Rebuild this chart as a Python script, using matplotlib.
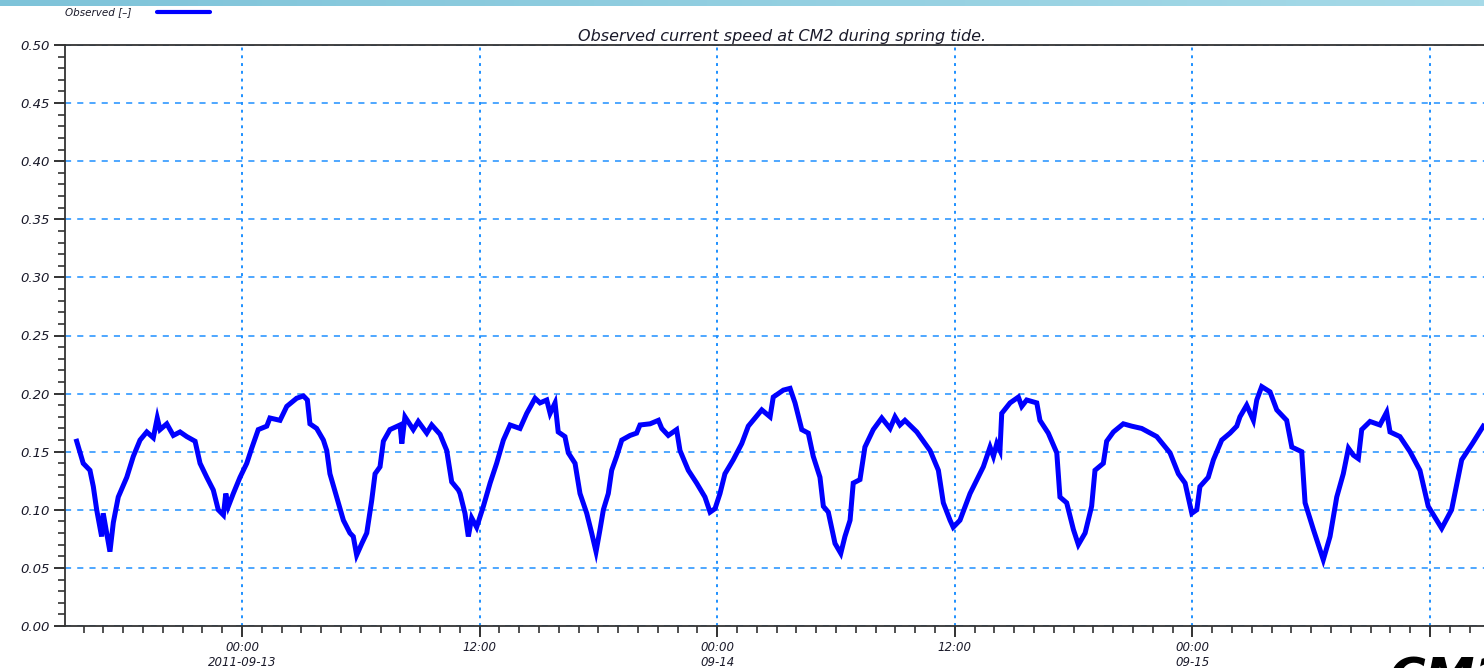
import numpy as np
import matplotlib
matplotlib.use("Agg")
import matplotlib.pyplot as plt
import matplotlib.dates as mdates
from matplotlib.ticker import MultipleLocator
from datetime import datetime, timedelta

# ---- data: hours relative to 2011-09-13 00:00, observed current speed ----
hours = [
    -8.35, -8.02, -7.68, -7.51, -7.34, -7.09, -7.01, -6.67, -6.50, -6.25,
    -5.82, -5.49, -5.15, -4.81, -4.48, -4.28, -4.14, -3.80, -3.47, -3.13,
    -2.79, -2.37, -2.12, -1.78, -1.45, -1.20, -0.94, -0.82, -0.69, -0.44,
    -0.10, 0.24, 0.49, 0.82, 1.25, 1.41, 1.92, 2.26, 2.76, 3.10,
    3.30, 3.43, 3.77, 4.11, 4.28, 4.44, 4.78, 5.12, 5.45, 5.62,
    5.79, 6.05, 6.30, 6.55, 6.72, 6.97, 7.14, 7.47, 7.98, 8.07,
    8.23, 8.65, 8.90, 9.33, 9.58, 10.00, 10.34, 10.59, 10.93,
    11.01, 11.26, 11.43, 11.60, 11.85, 12.19, 12.53, 12.86, 13.20, 13.54,
    14.04, 14.38, 14.80, 15.05, 15.39, 15.56, 15.81, 15.97, 16.31, 16.48,
    16.82, 17.07, 17.41, 17.66, 17.88, 18.08, 18.25, 18.50, 18.67, 18.92,
    19.18, 19.60, 19.93, 20.10, 20.61, 21.03, 21.20, 21.53, 21.95, 22.12,
    22.54, 22.96, 23.38, 23.64, 23.89, 24.14, 24.39, 24.81, 25.24, 25.57,
    26.25, 26.67, 26.83, 27.34, 27.68, 27.93, 28.27, 28.60, 28.85, 29.19,
    29.36, 29.61, 29.95, 30.24, 30.45, 30.71, 30.87, 31.21, 31.46, 31.88,
    32.31, 32.73, 32.98, 33.23, 33.48, 34.08, 34.75, 35.17, 35.42, 35.76,
    35.92, 36.26, 36.77, 37.44, 37.78, 37.95, 38.12, 38.28, 38.37, 38.79,
    39.21, 39.38, 39.63, 40.14, 40.30, 40.72, 41.15, 41.31, 41.65, 41.99,
    42.24, 42.58, 42.91, 43.08, 43.50, 43.67, 44.01, 44.51, 44.93, 45.44,
    46.20, 46.87, 47.29, 47.63, 47.97, 48.22, 48.38, 48.80, 49.06, 49.48,
    49.90, 50.24, 50.40, 50.74, 51.08, 51.25, 51.50, 51.92, 52.26, 52.76,
    53.02, 53.52, 53.69, 54.11, 54.61, 54.95, 55.29, 55.62, 55.88, 56.13,
    56.38, 56.55, 56.97, 57.47, 57.81, 57.98, 58.48, 58.99, 59.49, 59.91,
    60.59, 61.09, 61.60, 62.14, 62.69,
]
speed = [
    0.159, 0.140, 0.134, 0.120, 0.100, 0.077, 0.097, 0.064, 0.089, 0.111,
    0.128, 0.146, 0.160, 0.167, 0.162, 0.179, 0.169, 0.174, 0.164, 0.167,
    0.163, 0.159, 0.140, 0.128, 0.117, 0.100, 0.0955, 0.114, 0.103, 0.114,
    0.128, 0.140, 0.153, 0.169, 0.172, 0.179, 0.177, 0.189, 0.196, 0.198,
    0.1945, 0.174, 0.170, 0.160, 0.151, 0.131, 0.111, 0.091, 0.080, 0.077,
    0.061, 0.071, 0.080, 0.108, 0.131, 0.137, 0.159, 0.169, 0.173, 0.157,
    0.180, 0.169, 0.176, 0.166, 0.173, 0.165, 0.151, 0.124, 0.117,
    0.114, 0.097, 0.077, 0.093, 0.085, 0.103, 0.123, 0.140, 0.160, 0.173,
    0.170, 0.183, 0.196, 0.192, 0.1945, 0.183, 0.192, 0.167, 0.163, 0.149,
    0.140, 0.114, 0.097, 0.080, 0.064, 0.083, 0.100, 0.114, 0.134, 0.146,
    0.160, 0.164, 0.166, 0.173, 0.174, 0.177, 0.170, 0.164, 0.169, 0.151,
    0.134, 0.123, 0.111, 0.098, 0.101, 0.114, 0.131, 0.143, 0.157, 0.172,
    0.186, 0.180, 0.197, 0.203, 0.2045, 0.192, 0.169, 0.166, 0.146, 0.128,
    0.103, 0.098, 0.071, 0.0625, 0.077, 0.091, 0.123, 0.126, 0.154, 0.169,
    0.179, 0.170, 0.180, 0.173, 0.177, 0.167, 0.151, 0.134, 0.106, 0.091,
    0.085, 0.091, 0.114, 0.137, 0.154, 0.146, 0.157, 0.151, 0.183, 0.192,
    0.197, 0.189, 0.1945, 0.192, 0.177, 0.166, 0.149, 0.111, 0.106, 0.083,
    0.070, 0.080, 0.103, 0.134, 0.140, 0.159, 0.167, 0.174, 0.172, 0.170,
    0.163, 0.149, 0.131, 0.123, 0.097, 0.100, 0.120, 0.128, 0.143, 0.160,
    0.166, 0.172, 0.180, 0.190, 0.177, 0.1945, 0.206, 0.2015, 0.186, 0.177,
    0.154, 0.150, 0.106, 0.083, 0.057, 0.077, 0.111, 0.131, 0.153, 0.147,
    0.144, 0.169, 0.176, 0.173, 0.184, 0.167, 0.163, 0.150, 0.134, 0.103,
    0.084, 0.100, 0.143, 0.157, 0.172,
]
y_ticks = [0.00, 0.05, 0.10, 0.15, 0.20, 0.25, 0.30, 0.35, 0.40, 0.45, 0.50]
# the last 12:00 label is hidden in the source picture
x_tick_labels = ["00:00\n2011-09-13", "12:00", "00:00\n09-14", "12:00",
                 "00:00\n09-15", ""]
title = "Observed current speed at CM2 during spring tide."
legend_label = "Observed [\u2013]"

base = datetime(2011, 9, 13)
times = [base + timedelta(hours=h) for h in hours]
tick_times = [base + timedelta(hours=12 * i) for i in range(len(x_tick_labels))]

W, H = 1484, 668
fig = plt.figure(figsize=(W / 100, H / 100), dpi=100)
fig.patch.set_facecolor("white")

# top decorative band
band = fig.add_axes([0, 1 - 6 / H, 1, 6 / H])
grad = np.linspace(0, 1, 300)
band_col = np.zeros((1, 300, 3))
c1 = np.array([0x7E, 0xC3, 0xD9]) / 255
c2 = np.array([0xA6, 0xDA, 0xE8]) / 255
for i, g in enumerate(grad):
    band_col[0, i] = c1 * (1 - g) + c2 * g
band.imshow(band_col, aspect="auto", extent=[0, 1, 0, 1])
band.axis("off")

# main axes
xl0, xl1 = -8.94, 63.5
px_per_h = 19.8
left = 65 / W
width = (xl1 - xl0) * px_per_h / W
bottom = (H - 626) / H
height = 581 / H
ax = fig.add_axes([left, bottom, width, height])

ax.plot(times, speed, color="#0000FF", lw=3.6, solid_joinstyle="miter",
        label=legend_label)

ax.set_xlim(base + timedelta(hours=xl0), base + timedelta(hours=xl1))
ax.set_ylim(0, 0.5)
ax.set_yticks(y_ticks)
ax.set_yticklabels([f"{v:.2f}" for v in y_ticks])
ax.yaxis.set_minor_locator(MultipleLocator(0.01))
ax.set_xticks(tick_times)
ax.set_xticklabels(x_tick_labels)
ax.xaxis.set_minor_locator(mdates.HourLocator(interval=1))

for lab in ax.get_yticklabels():
    lab.set_fontsize(9.5)
    lab.set_fontstyle("italic")
    lab.set_color("#1a1a2a")
for lab in ax.get_xticklabels():
    lab.set_fontsize(8.5)
    lab.set_fontstyle("italic")
    lab.set_color("#1a1a2a")
    lab.set_linespacing(1.15)

ax.tick_params(axis="both", which="major", direction="out", length=8,
               width=1.3, color="#222222", pad=3)
ax.tick_params(axis="both", which="minor", direction="out", length=5,
               width=1.1, color="#222222")
ax.tick_params(axis="x", which="major", pad=3)

ax.grid(axis="y", which="major", color="#1E90FF", linestyle=(0, (4, 4)), lw=1.1)
ax.grid(axis="x", which="major", color="#1E90FF", linestyle=(0, (1.5, 2.5)), lw=1.4)
ax.set_axisbelow(True)

for side in ["left", "bottom", "top"]:
    ax.spines[side].set_color("#333333")
    ax.spines[side].set_linewidth(1.3)
ax.spines["right"].set_visible(False)

ax.set_title(title, fontsize=11.5, fontstyle="italic", color="#1a1a2a", pad=3)

# legend at the top-left
fig.text(65 / W, 1 - 12 / H, legend_label, fontsize=7.5, fontstyle="italic",
         color="#1a1a2a", va="center", ha="left")
fig.add_artist(plt.Line2D([157 / W, 210 / W], [1 - 12 / H, 1 - 12 / H],
                          color="#0000FF", lw=3.0, solid_capstyle="round"))

# slide text partially visible at bottom right (cut off as in the source)
fig.text(1388 / W, 1 - 655 / H, "CM2", fontsize=36, fontweight="bold",
         fontstyle="italic", color="black", va="top", ha="left")

fig.savefig("out.png", dpi=100, facecolor="white")
